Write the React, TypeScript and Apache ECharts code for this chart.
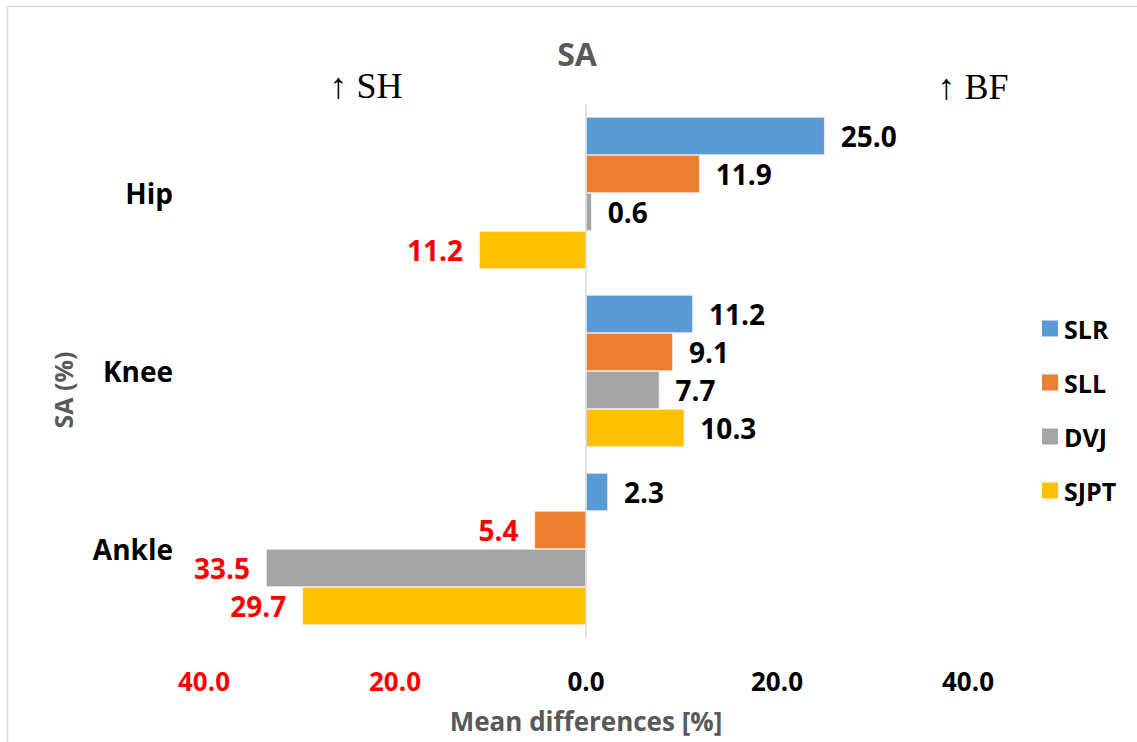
import React, { useEffect, useRef } from "react";
import * as echarts from "echarts";

const categories = ["Hip", "Knee", "Ankle"];
const seriesNames = ["SLR", "SLL", "DVJ", "SJPT"];
const slr = [25.0, 11.2, 2.3];
const sll = [11.9, 9.1, -5.4];
const dvj = [0.6, 7.7, -33.5];
const sjpt = [-11.2, 10.3, -29.7];
const colors = ["#5B9BD5", "#ED7D31", "#A5A5A5", "#FFC000"];
const xTicks = { min: -40, max: 40, interval: 20 };

const FONT = "'Open Sans', 'Noto Sans', sans-serif";

export default function App() {
  const ref = useRef<HTMLDivElement>(null);
  useEffect(() => {
    if (!ref.current) return;
    const chart = echarts.init(ref.current, null, { renderer: "svg" });
    const values = [slr, sll, dvj, sjpt];
    const series: any[] = values.map((vals, i) => ({
      name: seriesNames[i],
      type: "bar",
      barGap: "0%",
      barCategoryGap: "14.6%",
      itemStyle: { color: colors[i], borderColor: "#ffffff", borderWidth: 0.6 },
      label: {
        show: true,
        distance: 16,
        fontFamily: FONT,
        fontWeight: "bold",
        fontSize: 28,
        formatter: (p: any) => Math.abs(p.value).toFixed(1),
      },
      data: vals.map((v) => ({
        value: v,
        label: { position: v < 0 ? "left" : "right", color: v < 0 ? "#FF0000" : "#000000" },
      })),
    }));
    series[0].markLine = {
      silent: true,
      symbol: "none",
      label: { show: false },
      lineStyle: { color: "#D9D9D9", width: 1.5, type: "solid" },
      data: [{ xAxis: 0 }],
    };
    chart.setOption({
      animation: false,
      backgroundColor: "#ffffff",
      textStyle: { fontFamily: FONT },
      grid: { left: 204, right: 169, top: 104, bottom: 104 },
      legend: {
        orient: "vertical",
        left: 1035,
        top: 311,
        itemWidth: 18,
        itemHeight: 18,
        itemGap: 29,
        icon: "rect",
        data: seriesNames,
        textStyle: { fontFamily: FONT, fontWeight: "bold", fontSize: 25, color: "#000" },
      },
      xAxis: {
        type: "value",
        min: xTicks.min,
        max: xTicks.max,
        interval: xTicks.interval,
        splitLine: { show: false },
        axisLine: { show: false },
        axisTick: { show: false },
        axisLabel: {
          margin: 30,
          formatter: (v: number) => (v < 0 ? "{r|" + Math.abs(v).toFixed(1) + "}" : "{b|" + v.toFixed(1) + "}"),
          rich: {
            r: { color: "#FF0000", fontFamily: FONT, fontWeight: "bold", fontSize: 26 },
            b: { color: "#000000", fontFamily: FONT, fontWeight: "bold", fontSize: 26 },
          },
        },
        name: "Mean differences [%]",
        nameLocation: "middle",
        nameGap: 70,
        nameTextStyle: { color: "#595959", fontFamily: FONT, fontWeight: "bold", fontSize: 26 },
      },
      yAxis: {
        type: "category",
        inverse: true,
        data: categories,
        axisLine: { show: false, onZero: false },
        axisTick: { show: false },
        axisLabel: { margin: 31, color: "#000", fontFamily: FONT, fontWeight: "bold", fontSize: 28 },
      },
      graphic: [
        {
          type: "rect",
          shape: { x: 7.5, y: 6.5, width: 1200, height: 800 },
          style: { fill: "none", stroke: "#D9D9D9", lineWidth: 1.5 },
          silent: true,
        },
        {
          type: "text",
          x: 577,
          y: 53,
          style: { text: "SA", fill: "#595959", font: "bold 32px " + FONT, textAlign: "center", textVerticalAlign: "middle" },
        },
        {
          type: "text",
          x: 366,
          y: 86,
          style: { text: "↑ SH", fill: "#000", font: "36px 'Liberation Serif', 'Times New Roman', serif", textAlign: "center", textVerticalAlign: "middle" },
        },
        {
          type: "text",
          x: 973,
          y: 87,
          style: { text: "↑ BF", fill: "#000", font: "36px 'Liberation Serif', 'Times New Roman', serif", textAlign: "center", textVerticalAlign: "middle" },
        },
        {
          type: "text",
          x: 63,
          y: 390,
          rotation: Math.PI / 2,
          style: { text: "SA (%)", fill: "#595959", font: "bold 25px " + FONT, textAlign: "center", textVerticalAlign: "middle" },
        },
      ],
      series,
    });
    return () => chart.dispose();
  }, []);
  return <div ref={ref} style={{ position: "absolute", left: 0, top: 0, width: 1137, height: 742 }} />;
}
